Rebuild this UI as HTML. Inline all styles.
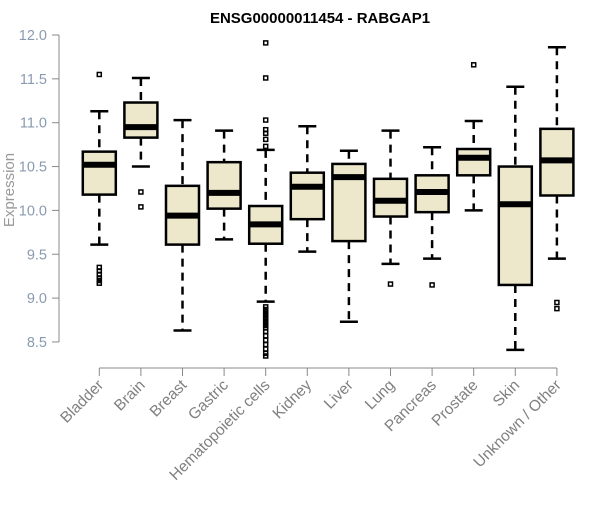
<!DOCTYPE html>
<html><head><meta charset="utf-8"><style>
body{margin:0;background:#fff}
svg text{font-family:"Liberation Sans",Arial,sans-serif}
</style></head><body>
<svg id="chart" width="600" height="500" viewBox="0 0 600 500" xmlns="http://www.w3.org/2000/svg">
<text x="320" y="23" text-anchor="middle" font-size="15" font-weight="bold">ENSG00000011454 - RABGAP1</text>
<text transform="translate(14,190) rotate(-90)" text-anchor="middle" font-size="15" fill="#999">Expression</text>
<g id="plot"></g>
</svg>
<script>
const categories=["Bladder","Brain","Breast","Gastric","Hematopoietic cells","Kidney","Liver","Lung","Pancreas","Prostate","Skin","Unknown / Other"];
const whiskLow=[9.61,10.50,8.63,9.67,8.96,9.53,8.73,9.39,9.45,10.0,8.41,9.45];
const q1=[10.18,10.83,9.61,10.02,9.62,9.90,9.65,9.93,9.98,10.40,9.15,10.17];
const medians=[10.52,10.95,9.94,10.20,9.84,10.27,10.38,10.11,10.21,10.60,10.07,10.57];
const q3=[10.67,11.23,10.28,10.55,10.05,10.43,10.53,10.36,10.40,10.70,10.50,10.93];
const whiskHigh=[11.13,11.51,11.03,10.91,10.69,10.96,10.68,10.91,10.72,11.02,11.41,11.86];
const outliers=[[11.55,9.35,9.31,9.27,9.23,9.2,9.17],[10.21,10.04],[],[],
[11.91,11.51,11.03,10.92,10.88,10.81,10.73,8.9,8.87,8.84,8.81,8.78,8.75,8.72,8.69,8.66,8.62,8.57,8.52,8.47,8.42,8.37,8.34],
[],[],[9.16],[9.15],[11.66],[],[8.95,8.88]];
const yTicks=[8.5,9.0,9.5,10.0,10.5,11.0,11.5,12.0];
const yTickLabels=["8.5","9.0","9.5","10.0","10.5","11.0","11.5","12.0"];

const NS="http://www.w3.org/2000/svg";
const g=document.getElementById('plot');
const y=v=>35+(12-v)*87.7;
const x=i=>99.3+i*41.6;
function mk(t,a){const e=document.createElementNS(NS,t);for(const k in a)e.setAttribute(k,a[k]);g.appendChild(e);return e;}
let ax=mk('line',{x1:59,x2:59,y1:y(12),y2:y(8.5),stroke:'#888','stroke-width':1});


yTicks.forEach((v,i)=>{
 let t=mk('line',{x1:52,x2:59,y1:y(v),y2:y(v),stroke:'#888'});
 
 
 let l=mk('text',{x:47,y:y(v)+5,'text-anchor':'end','font-size':14.5,fill:'#8a9ab0'});
 l.textContent=yTickLabels[i];
 
 
});
let xa=mk('line',{x1:x(0),x2:x(categories.length-1),y1:368,y2:368,stroke:'#888'});


categories.forEach((c,i)=>{
 const cx=x(i);
 let t=mk('line',{x1:cx,x2:cx,y1:368,y2:376,stroke:'#888'});
 
 
 let l=mk('text',{transform:`translate(${cx+5},${386}) rotate(-45)`,'text-anchor':'end','font-size':15.5,fill:'#808080'});
 l.textContent=c;
 
 
 const ws={stroke:'#000','stroke-width':2.5,'stroke-dasharray':'8,6'};
 let w1=mk('line',Object.assign({x1:cx,x2:cx,y1:y(whiskHigh[i]),y2:y(q3[i])},ws));
 
 
 let w2=mk('line',Object.assign({x1:cx,x2:cx,y1:y(q1[i]),y2:y(whiskLow[i])},ws));
 
 
 let c1=mk('line',{x1:cx-9,x2:cx+9,y1:y(whiskHigh[i]),y2:y(whiskHigh[i]),stroke:'#000','stroke-width':2.5});
 
 
 let c2=mk('line',{x1:cx-9,x2:cx+9,y1:y(whiskLow[i]),y2:y(whiskLow[i]),stroke:'#000','stroke-width':2.5});
 
 
 let b=mk('rect',{x:cx-16.5,y:y(q3[i]),width:33,height:y(q1[i])-y(q3[i]),fill:'#ede8cc',stroke:'#000','stroke-width':2.5});
 
 
 let m=mk('line',{x1:cx-16.5,x2:cx+16.5,y1:y(medians[i]),y2:y(medians[i]),stroke:'#000','stroke-width':6});
 
 
 outliers[i].forEach(v=>{
  let o=mk('rect',{x:cx-2,y:y(v)-2,width:4,height:4,fill:'none',stroke:'#000','stroke-width':1.5});
  
  
 });
});
</script>
</body></html>
